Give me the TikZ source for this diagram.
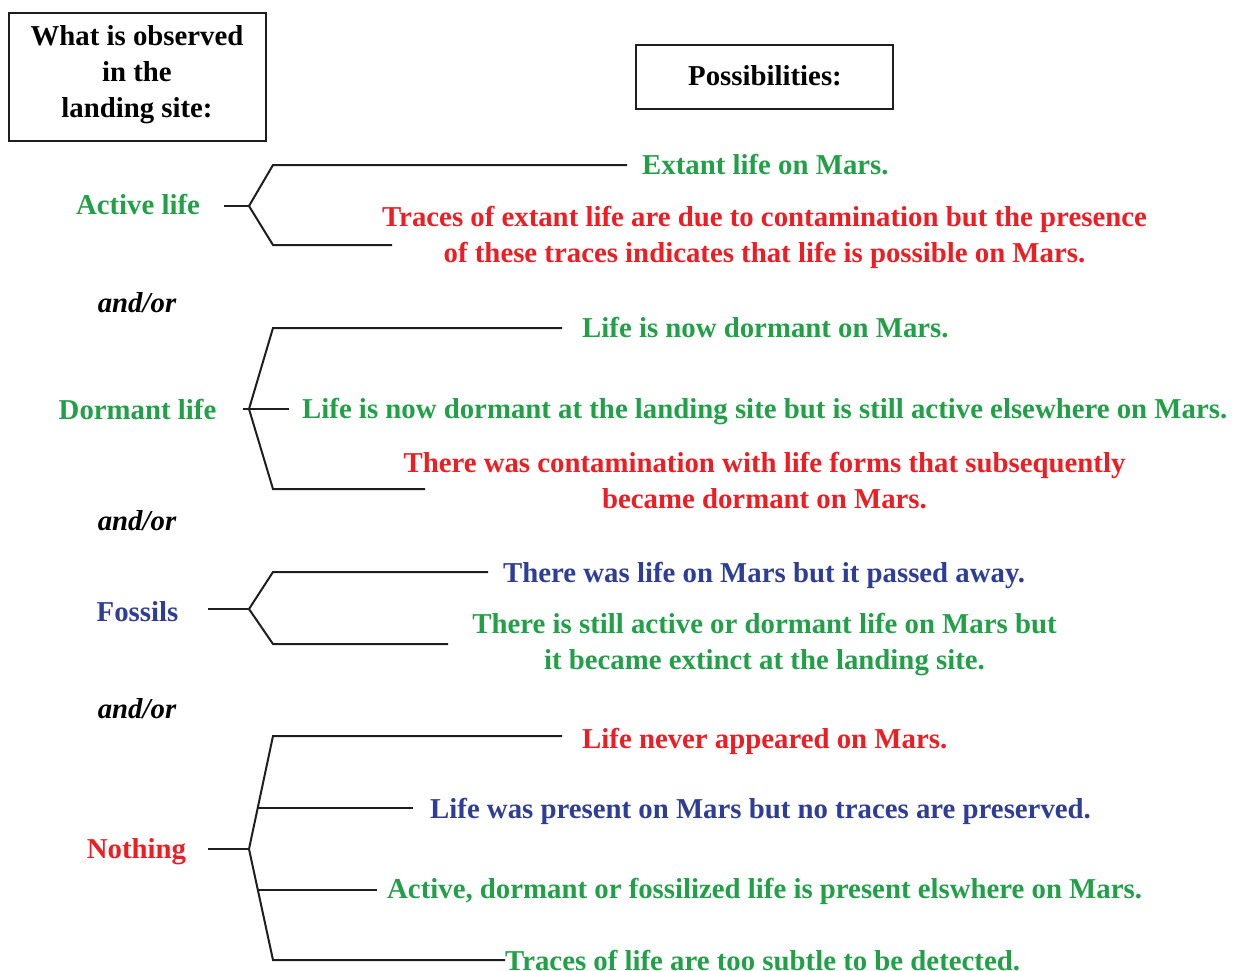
\documentclass[tikz,border=0pt]{standalone}
\usepackage{fontspec}
\setmainfont{Liberation Serif}
\definecolor{tgreen}{RGB}{34,160,72}
\definecolor{tred}{RGB}{236,30,36}
\definecolor{tblue}{RGB}{46,62,150}
\definecolor{tline}{RGB}{30,30,30}
\begin{document}
\begin{tikzpicture}[x=1pt,y=-1pt,
  txt/.style={inner sep=0pt,font=\fontsize{28.8}{36}\selectfont\bfseries},
  opt/.style={txt,anchor=base west},
  optc/.style={txt,anchor=base,align=center},
  cat/.style={txt,anchor=base},
  andor/.style={txt,anchor=base,font=\fontsize{28.8}{36}\selectfont\bfseries\itshape},
  hbox/.style={draw=tline,line width=2pt},
  branch/.style={draw=tline,line width=2pt,line join=miter}]
\useasboundingbox (0,0) rectangle (1236,970);
% header boxes
\draw[hbox] (9,13) rectangle (266,141);
\node[cat,align=center] (obs) at (137,117) {What is observed\\in the\\landing site:};
\draw[hbox] (636,45) rectangle (893,109);
\node[cat] (pos) at (765,85) {Possibilities:};
% categories
\node[cat,text=tgreen] (act) at (138,214) {Active life};
\node[andor] (ao1) at (137,312) {and/or};
\node[cat,text=tgreen] (dor) at (137.5,419) {Dormant life};
\node[andor] (ao2) at (137,530) {and/or};
\node[cat,text=tblue] (fos) at (137.5,621) {Fossils};
\node[andor] (ao3) at (137,718) {and/or};
\node[cat,text=tred] (non) at (136.5,858) {Nothing};
% possibilities
\node[opt,text=tgreen] (p1) at (642,174) {Extant life on Mars.};
\node[optc,text=tred] (p2) at (764.5,262) {Traces of extant life are due to contamination but the presence\\of these traces indicates that life is possible on Mars.};
\node[opt,text=tgreen] (p3) at (582,337) {Life is now dormant on Mars.};
\node[opt,text=tgreen] (p4) at (302,418) {Life is now dormant at the landing site but is still active elsewhere on Mars.};
\node[optc,text=tred] (p5) at (764.5,508) {There was contamination with life forms that subsequently\\became dormant on Mars.};
\node[opt,text=tblue] (p6) at (503,582) {There was life on Mars but it passed away.};
\node[optc,text=tgreen] (p7) at (764.5,669) {There is still active or dormant life on Mars but\\it became extinct at the landing site.};
\node[opt,text=tred] (p8) at (582,748) {Life never appeared on Mars.};
\node[opt,text=tblue] (p9) at (430,818) {Life was present on Mars but no traces are preserved.};
\node[opt,text=tgreen] (p10) at (387,898) {Active, dormant or fossilized life is present elswhere on Mars.};
\node[opt,text=tgreen] (p11) at (505,970) {Traces of life are too subtle to be detected.};
% branch coordinates
\coordinate (s1) at (224,206); \coordinate (v1) at (249,206);
\coordinate (a1) at (273,165); \coordinate (a1e) at (627,165);
\coordinate (a2) at (273,245); \coordinate (a2e) at (392,245);
\coordinate (s2) at (243,409); \coordinate (v2) at (249,409);
\coordinate (d1) at (273,328); \coordinate (d1e) at (562,328);
\coordinate (d2e) at (289,409);
\coordinate (d3) at (273,489); \coordinate (d3e) at (425,489);
\coordinate (s3) at (208,609); \coordinate (v3) at (249,609);
\coordinate (f1) at (273,572); \coordinate (f1e) at (488,572);
\coordinate (f2) at (273,644); \coordinate (f2e) at (448,644);
\coordinate (s4) at (208,849); \coordinate (v4) at (249,849);
\coordinate (n1) at (273,736); \coordinate (n1e) at (562,736);
\coordinate (n2) at (258,808); \coordinate (n2e) at (413,808);
\coordinate (n3) at (258,890); \coordinate (n3e) at (377,890);
\coordinate (n4) at (273,960); \coordinate (n4e) at (505,960);
% branches
\draw[branch] (s1) -- (v1);
\draw[branch] (a1e) -- (a1) -- (v1) -- (a2) -- (a2e);
\draw[branch] (s2) -- (d2e);
\draw[branch] (d1e) -- (d1) -- (v2) -- (d3) -- (d3e);
\draw[branch] (s3) -- (v3);
\draw[branch] (f1e) -- (f1) -- (v3) -- (f2) -- (f2e);
\draw[branch] (s4) -- (v4);
\draw[branch] (n1e) -- (n1) -- (v4) -- (n4) -- (n4e);
\draw[branch] (n2) -- (n2e);
\draw[branch] (n3) -- (n3e);
\end{tikzpicture}
\end{document}
